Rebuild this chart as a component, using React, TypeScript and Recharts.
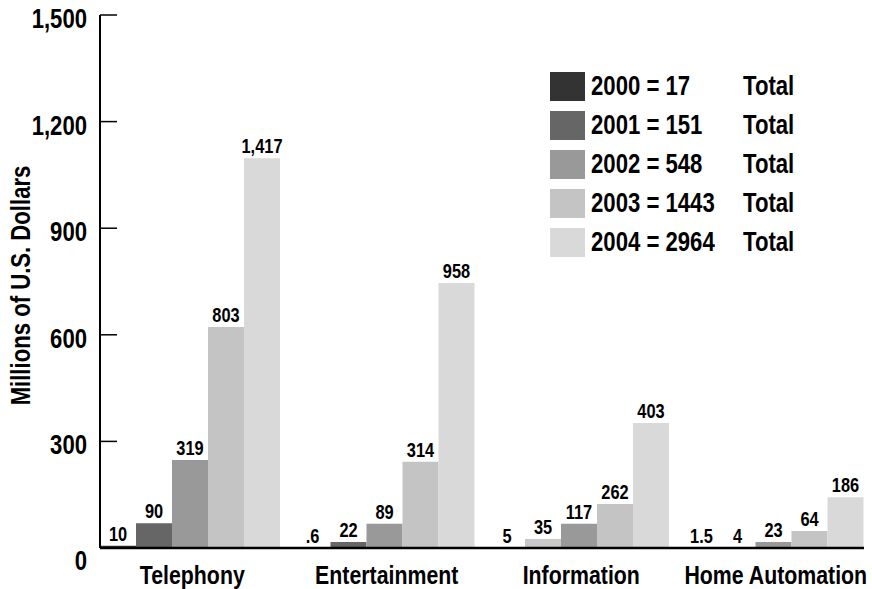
import React from 'react';
import {
  BarChart,
  Bar,
  XAxis,
  YAxis,
  Legend,
  LabelList,
  Cell,
} from 'recharts';

const categories = ['Telephony', 'Entertainment', 'Information', 'Home Automation'];
const years = ['2000', '2001', '2002', '2003', '2004'];
const yearTotals = [17, 151, 548, 1443, 2964];

// bar heights as drawn in the picture (tiny ones are barely visible)
const bars2000 = [6, 0.6, 1, 1];
const bars2001 = [70, 17, 25, 1];
const bars2002 = [248, 68, 68, 17];
const bars2003 = [622, 243, 124, 48];
const bars2004 = [1097, 746, 352, 143];

// printed value labels
const labels2000 = ['10', '.6', '5', '1.5'];
const labels2001 = ['90', '22', '35', '4'];
const labels2002 = ['319', '89', '117', '23'];
const labels2003 = ['803', '314', '262', '64'];
const labels2004 = ['1,417', '958', '403', '186'];

const yTicks = [0, 300, 600, 900, 1200, 1500];

const allBars = [bars2000, bars2001, bars2002, bars2003, bars2004];
const allLabels = [labels2000, labels2001, labels2002, labels2003, labels2004];

const data = categories.map((category, i) => {
  const row: Record<string, string | number> = { category };
  years.forEach((y, k) => {
    row[`v${y}`] = allBars[k][i];
    row[`l${y}`] = allLabels[k][i];
  });
  return row;
});

const colors = ['#333333', '#666666', '#999999', '#c4c4c4', '#d9d9d9'];
// the source shades one bar differently
const oddFills: Record<string, string> = { '2001|Information': '#c8c8c8' };

// no narrow font installed, so squeeze Liberation Sans like Arial Narrow
const FONT = '"Liberation Sans", Arial, sans-serif';
const SX = 0.82;

const NarrowText = ({ x, y, size, anchor = 'middle', dy = 0, rotate = 0, children }: any) => (
  <g transform={`translate(${x},${y}) rotate(${rotate}) scale(${SX},1)`}>
    <text
      x={0}
      y={0}
      dy={dy}
      textAnchor={anchor}
      fontFamily={FONT}
      fontWeight="bold"
      fontSize={size}
      fill="#000"
    >
      {children}
    </text>
  </g>
);

const YTick = (props: any) => {
  const { x, y, payload } = props;
  const v = payload.value as number;
  return (
    <g>
      <line x1={x + 13} x2={x + 30} y1={y} y2={y} stroke="#000" strokeWidth={1.5} />
      <NarrowText x={x} y={y} size={27} anchor="end" dy={v === 0 ? 22 : 13}>
        {v.toLocaleString('en-US')}
      </NarrowText>
    </g>
  );
};

const XTick = (props: any) => {
  const { x, y, payload } = props;
  return (
    <NarrowText x={x + 2} y={y} size={26} dy={19}>
      {payload.value}
    </NarrowText>
  );
};

const ValueLabel = (props: any) => {
  const { x, y, width, value } = props;
  return (
    <NarrowText x={x + width / 2} y={y - 5} size={20}>
      {value}
    </NarrowText>
  );
};

const AxisTitle = (props: any) => {
  const { viewBox } = props;
  const cx = viewBox.x + 21;
  const cy = viewBox.y + viewBox.height / 2 + 4;
  return (
    <NarrowText x={cx} y={cy} size={27} rotate={-90} dy={9}>
      Millions of U.S. Dollars
    </NarrowText>
  );
};

const squeeze: React.CSSProperties = {
  display: 'inline-block',
  transform: `scaleX(${SX})`,
  transformOrigin: 'left center',
  whiteSpace: 'nowrap',
};

const LegendBox = () => (
  <div style={{ fontFamily: FONT, fontWeight: 'bold', fontSize: 27, color: '#000', lineHeight: '39px' }}>
    {years.map((y, i) => (
      <div key={y} style={{ display: 'flex', alignItems: 'center', height: 39 }}>
        <div style={{ width: 35, height: 29, background: colors[i], flex: 'none' }} />
        <div style={{ marginLeft: 6, width: 152, flex: 'none' }}>
          <span style={squeeze}>{`${y} = ${yearTotals[i]}`}</span>
        </div>
        <span style={squeeze}>Total</span>
      </div>
    ))}
  </div>
);

export default function App() {
  return (
    <div style={{ position: 'absolute', left: 0, top: 0, background: '#fff' }}>
      <BarChart
        width={872}
        height={589}
        data={data}
        margin={{ top: 15, right: 8, left: 0, bottom: 0 }}
        barCategoryGap={7}
        barGap={0}
      >
        <XAxis
          dataKey="category"
          height={41}
          padding={{ left: -7, right: -7 }}
          axisLine={{ stroke: '#000', strokeWidth: 2.5 }}
          tickLine={false}
          tickSize={0}
          tickMargin={17}
          tick={<XTick />}
          interval={0}
        />
        <YAxis
          width={100}
          domain={[0, 1500]}
          ticks={yTicks}
          axisLine={{ stroke: '#000', strokeWidth: 2 }}
          tickLine={false}
          tickSize={0}
          tickMargin={13}
          tick={<YTick />}
          label={<AxisTitle />}
        />
        <Legend
          layout="vertical"
          align="center"
          verticalAlign="middle"
          content={<LegendBox />}
          wrapperStyle={{ position: 'absolute', left: 550, top: 67, width: 260 }}
        />
        {years.map((y, k) => (
          <Bar
            key={y}
            dataKey={`v${y}`}
            name={`${y} = ${yearTotals[k]}`}
            fill={colors[k]}
            isAnimationActive={false}
          >
            {data.map((d) => (
              <Cell key={d.category as string} fill={oddFills[`${y}|${d.category}`] ?? colors[k]} />
            ))}
            <LabelList dataKey={`l${y}`} position="top" content={<ValueLabel />} />
          </Bar>
        ))}
      </BarChart>
    </div>
  );
}
